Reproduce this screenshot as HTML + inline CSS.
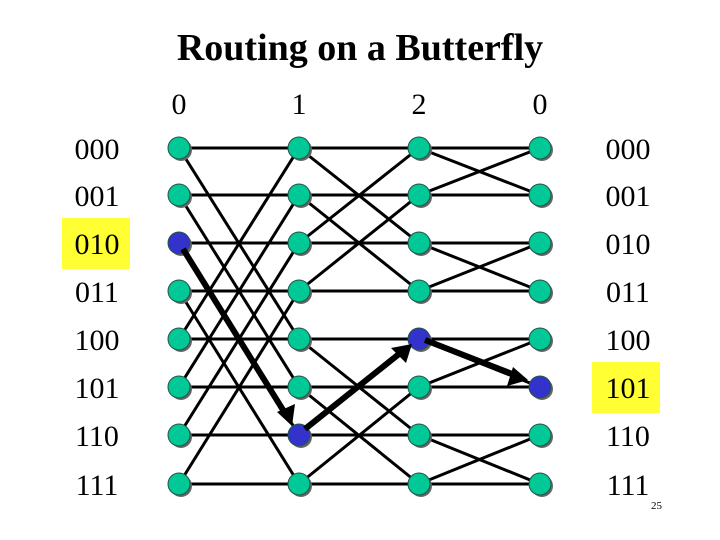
<!DOCTYPE html>
<html><head><style>body{margin:0;background:#fff}svg{display:block}</style></head><body>
<svg width="720" height="540" xmlns="http://www.w3.org/2000/svg" font-family="Liberation Serif, serif">
<text x="360" y="60" font-size="38" font-weight="bold" text-anchor="middle">Routing on a Butterfly</text>
<g font-size="30" text-anchor="middle">
<text x="179" y="114">0</text><text x="299" y="114">1</text><text x="419" y="114">2</text><text x="540" y="114">0</text>
</g>
<rect x="62" y="218" width="68" height="51" fill="#ffff33"/>
<rect x="592" y="362" width="68" height="51" fill="#ffff33"/>
<g font-size="30" text-anchor="middle" id="labels"></g>
<text x="651" y="509" font-size="11">25</text>
<g id="edges" stroke="#000" stroke-width="3"></g>
<g id="nodes"></g>
<g stroke="#000" stroke-width="6" fill="none">
<line x1="183" y1="249" x2="288" y2="418"/>
<line x1="305" y1="429" x2="404" y2="350"/>
<line x1="425" y1="340" x2="520" y2="377"/>
</g>
<g fill="#000">
<polygon points="292,426 277,412 295,404"/>
<polygon points="412,344 391,348 406,363"/>
<polygon points="528,380 513,367 507,386"/>
</g>
<script>
var xs=[179,299,419,540],ys=[148,195,243,291,339,387,435,484],ns="http://www.w3.org/2000/svg";
var lab=["000","001","010","011","100","101","110","111"],L=document.getElementById("labels");
lab.forEach(function(t,i){[97,628].forEach(function(x){var e=document.createElementNS(ns,"text");e.setAttribute("x",x);e.setAttribute("y",ys[i]+11);e.textContent=t;L.appendChild(e);});});
var E=document.getElementById("edges"),bits=[4,2,1];
for(var c=0;c<3;c++)for(var i=0;i<8;i++)[i,i^bits[c]].forEach(function(j){var l=document.createElementNS(ns,"line");l.setAttribute("x1",xs[c]);l.setAttribute("y1",ys[i]);l.setAttribute("x2",xs[c+1]);l.setAttribute("y2",ys[j]);E.appendChild(l);});
var N=document.getElementById("nodes"),blue={"0,2":1,"1,6":1,"2,4":1,"3,5":1};
for(var c=0;c<4;c++)for(var i=0;i<8;i++){var s=document.createElementNS(ns,"circle");s.setAttribute("cx",xs[c]+2);s.setAttribute("cy",ys[i]+2);s.setAttribute("r",11);s.setAttribute("fill","#666");N.appendChild(s);
var k=document.createElementNS(ns,"circle");k.setAttribute("cx",xs[c]);k.setAttribute("cy",ys[i]);k.setAttribute("r",11);k.setAttribute("fill",blue[c+","+i]?"#3333cc":"#00c896");k.setAttribute("stroke","#225544");k.setAttribute("stroke-width","1");N.appendChild(k);}
</script>
</svg>
</body></html>
